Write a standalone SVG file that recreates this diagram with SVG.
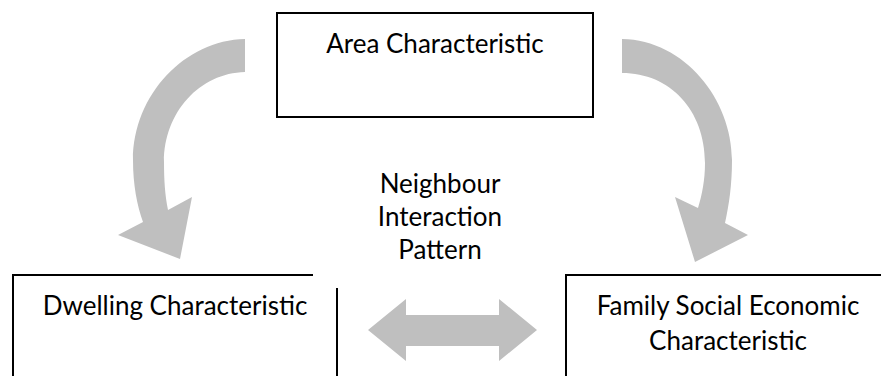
<svg xmlns="http://www.w3.org/2000/svg" width="881" height="376" viewBox="0 0 881 376">
<style>
.box{fill:none;stroke:#000;stroke-width:2}
.arr{fill:#BFBFBF;stroke:none}
text{font-family:Lato,"Open Sans","Liberation Sans",sans-serif;font-size:26px;fill:#000;text-anchor:middle}
</style>
<rect width="881" height="376" fill="#fff"/>
<g id="connectors">
<path id="arrow-left" class="arr" d="M245,39 C185,40 133,95 133,160 C133,185 137,205 143,222 L118,235 L180,259 L192,197 L168,210 C165,195 164,180 164,162 C164,112 200,73 245,72 Z"/>
<path id="arrow-right" class="arr" d="M622,39 C685,40 732,100 732,160 C732,185 729,205 725,223 L748,235 L695,262 L675,197 L698,208 C702,195 705,180 705,163 C705,110 670,73 622,73 Z"/>
<path id="arrow-both" class="arr" d="M368,330 L406,299 L406,315 L499,315 L499,299 L537,330 L499,361 L499,346 L406,346 L406,361 Z"/>
</g>
<g id="area">
<rect class="box" x="277" y="13" width="316" height="104"/>
<text x="435" y="53">Area Characteristic</text>
</g>
<g id="dwelling">
<path class="box" d="M313,275 L13,275 L13,380 M337,288 L337,380"/>
<text x="175" y="315">Dwelling Characteristic</text>
</g>
<g id="family">
<rect class="box" x="566" y="275" width="340" height="120"/>
<text x="728" y="315">Family Social Economic</text>
<text x="728" y="350">Characteristic</text>
</g>
<g id="neighbour">
<text x="440" y="193">Neighbour</text>
<text x="440" y="226">Interaction</text>
<text x="440" y="259">Pattern</text>
</g>
</svg>
